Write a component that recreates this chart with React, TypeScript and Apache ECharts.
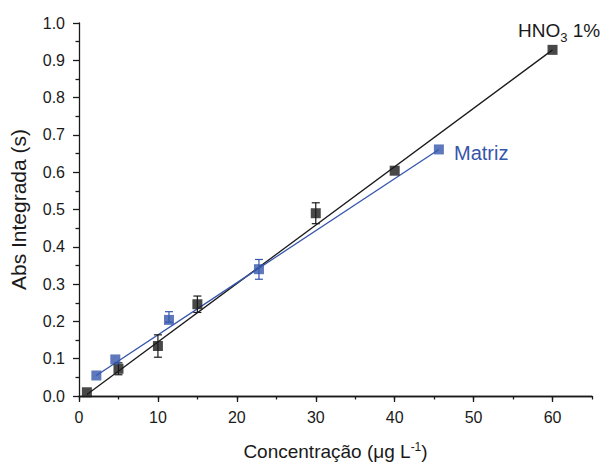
import React, { useEffect, useRef } from "react";
import * as echarts from "echarts";

const hno3X = [1, 5, 10, 15, 30, 40, 60];
const hno3Y = [0.01, 0.073, 0.134, 0.246, 0.49, 0.604, 0.928];
const hno3ErrUp = [0, 0.016, 0.03, 0.022, 0.028, 0, 0];
const hno3ErrDown = [0, 0.016, 0.03, 0.022, 0.028, 0, 0];

const matrizX = [2.2, 4.6, 11.4, 22.8, 45.6];
const matrizY = [0.055, 0.098, 0.204, 0.34, 0.661];
const matrizErrUp = [0, 0, 0.022, 0.026, 0];
const matrizErrDown = [0, 0, 0.006, 0.027, 0];

const hno3FitX = [1, 60];
const hno3FitY = [0.004, 0.928];
const matrizFitX = [2.2, 45.6];
const matrizFitY = [0.055, 0.661];

const xMajorTicks = [0, 10, 20, 30, 40, 50, 60];

const BLACK = "#1a1a1a";
const BLUE = "#3656ab";
const FONT = "Liberation Sans, Arial, sans-serif";

function errorSeries(xs: number[], ys: number[], up: number[], down: number[], color: string) {
  const data = xs.map((x, i) => [x, ys[i], ys[i] + up[i], ys[i] - down[i]]);
  return {
    type: "custom",
    xAxisIndex: 0,
    yAxisIndex: 0,
    z: 3,
    data,
    renderItem: (params: any, api: any) => {
      const x = api.value(0);
      const hi = api.value(2);
      const lo = api.value(3);
      const y = api.value(1);
      if (hi === y && lo === y) return { type: "group", children: [] };
      const pHi = api.coord([x, hi]);
      const pLo = api.coord([x, lo]);
      const w = 4;
      const style = { stroke: color, lineWidth: 1.2 };
      return {
        type: "group",
        children: [
          { type: "line", shape: { x1: pHi[0], y1: pHi[1], x2: pLo[0], y2: pLo[1] }, style },
          { type: "line", shape: { x1: pHi[0] - w, y1: pHi[1], x2: pHi[0] + w, y2: pHi[1] }, style },
          { type: "line", shape: { x1: pLo[0] - w, y1: pLo[1], x2: pLo[0] + w, y2: pLo[1] }, style },
        ],
      };
    },
  };
}

export default function App() {
  const ref = useRef<HTMLDivElement>(null);
  useEffect(() => {
    if (!ref.current) return;
    document.body.style.margin = "0";
    const chart = echarts.init(ref.current, undefined, { renderer: "svg" });
    const axisLineStyle = { color: BLACK, width: 1.3 };
    chart.setOption({
      animation: false,
      backgroundColor: "#ffffff",
      grid: { left: 78, right: 16, top: 23, bottom: 65 },
      xAxis: [
        {
          type: "value",
          min: 0,
          max: 65,
          interval: 5,
          position: "bottom",
          splitLine: { show: false },
          axisLine: { show: true, lineStyle: axisLineStyle },
          axisTick: { show: true, inside: false, length: 3.5, lineStyle: axisLineStyle },
          axisLabel: {
            color: BLACK,
            fontFamily: FONT,
            fontSize: 16,
            margin: 13,
            formatter: (v: number) => (v % 10 === 0 && v <= 60 ? String(v) : ""),
          },
          name: "Concentração (μg L{sup|-1})",
          nameLocation: "middle",
          nameGap: 45,
          nameTextStyle: {
            color: BLACK,
            fontFamily: FONT,
            fontSize: 19,
            rich: { sup: { fontSize: 12, verticalAlign: "top", padding: [0, 0, 9, 0], color: BLACK, fontFamily: FONT } },
          },
        },
        {
          type: "value",
          min: 0,
          max: 65,
          position: "bottom",
          splitLine: { show: false },
          axisLine: { show: true, lineStyle: axisLineStyle },
          axisTick: { show: true, inside: false, length: 6, customValues: xMajorTicks, lineStyle: axisLineStyle },
          axisLabel: { show: false },
        },
      ],
      yAxis: {
        type: "value",
        min: 0,
        max: 1.0,
        interval: 0.1,
        splitLine: { show: false },
        axisLine: { show: true, lineStyle: axisLineStyle },
        axisTick: { show: true, inside: false, length: 6, lineStyle: axisLineStyle },
        minorTick: { show: true, splitNumber: 2, length: 3.5, lineStyle: axisLineStyle },
        axisLabel: {
          color: BLACK,
          fontFamily: FONT,
          fontSize: 16,
          margin: 14,
          formatter: (v: number) => v.toFixed(1),
        },
        name: "Abs Integrada (s)",
        nameLocation: "middle",
        nameGap: 50,
        nameTextStyle: { color: BLACK, fontFamily: FONT, fontSize: 21 },
      },
      series: [
        {
          type: "line",
          data: hno3FitX.map((x, i) => [x, hno3FitY[i]]),
          showSymbol: false,
          symbol: "none",
          lineStyle: { color: BLACK, width: 1.3 },
          z: 2,
        },
        {
          type: "line",
          data: matrizFitX.map((x, i) => [x, matrizFitY[i]]),
          showSymbol: false,
          symbol: "none",
          lineStyle: { color: BLUE, width: 1.3 },
          z: 2,
        },
        errorSeries(hno3X, hno3Y, hno3ErrUp, hno3ErrDown, BLACK),
        errorSeries(matrizX, matrizY, matrizErrUp, matrizErrDown, BLUE),
        {
          type: "scatter",
          data: hno3X.map((x, i) => [x, hno3Y[i]]),
          symbol: "rect",
          symbolSize: 10,
          itemStyle: { color: BLACK },
          z: 4,
        },
        {
          type: "scatter",
          data: matrizX.map((x, i) => [x, matrizY[i]]),
          symbol: "rect",
          symbolSize: 10,
          itemStyle: { color: BLUE },
          z: 4,
        },
      ],
      graphic: [
        {
          type: "text",
          left: 518,
          top: 21,
          style: {
            text: "HNO{sub|3} 1%",
            fill: BLACK,
            font: "19px Liberation Sans, Arial, sans-serif",
            rich: {
              sub: { fontSize: 13, fontFamily: FONT, fill: BLACK, padding: [14, 0, 0, 0] },
            },
          },
        },
        {
          type: "text",
          left: 454,
          top: 143,
          style: {
            text: "Matriz",
            fill: BLUE,
            font: "20px Liberation Sans, Arial, sans-serif",
          },
        },
      ],
    });
    return () => chart.dispose();
  }, []);
  return <div ref={ref} style={{ width: 608, height: 466 }} />;
}
